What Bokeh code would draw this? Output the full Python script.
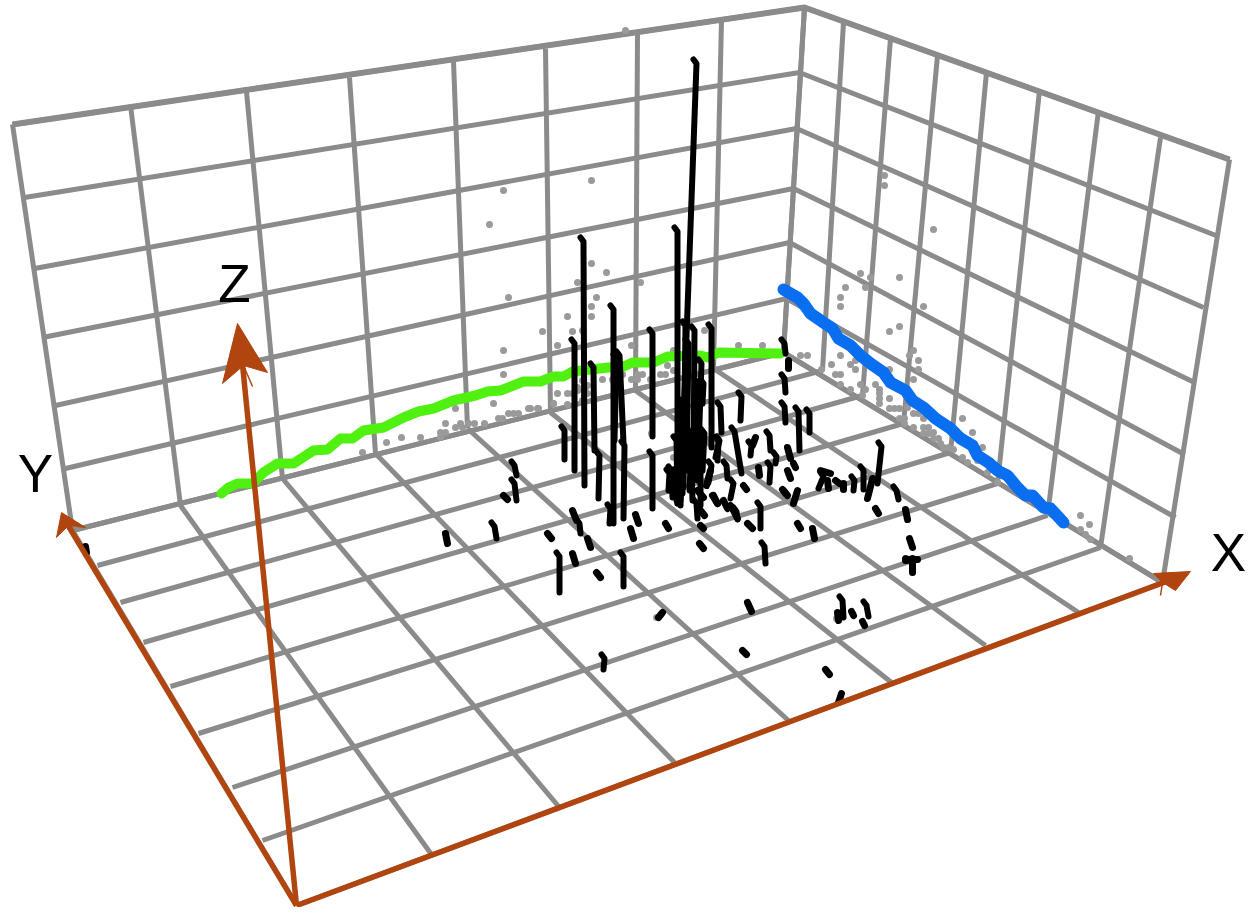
from bokeh.plotting import figure
from bokeh.models import Range1d
from bokeh.core.properties import value
from bokeh.embed import file_html
from bokeh.resources import INLINE

# --- projected box: rows and columns of the three grids ---
back_top_x = [12, 130, 246, 349, 453, 545, 637, 721, 804]
back_top_y = [124, 105, 91, 77, 61, 48, 33, 20, 7]
back_bot_x = [72, 180, 282, 375, 467, 550, 635, 713, 783]
back_bot_y = [530, 505, 478, 453, 428, 412, 390, 368, 352]
left_edge_x = [12, 24, 34, 42, 55, 65, 72]
left_edge_y = [124, 197, 268, 337, 405, 468, 530]
corner_x = [804, 799, 796, 793, 789, 786, 783]
corner_y = [7, 72, 128, 188, 242, 298, 352]
right_edge_x = [1229, 1218, 1203, 1194, 1184, 1175, 1162]
right_edge_y = [159, 236, 307, 382, 454, 517, 582]
right_top_x = [804, 843, 890, 937, 986, 1039, 1098, 1160, 1229]
right_top_y = [7, 22, 38, 55, 72, 90, 110, 137, 159]
right_bot_x = [783, 822, 862, 903, 950, 997, 1047, 1100, 1162]
right_bot_y = [352, 370, 395, 423, 452, 483, 515, 547, 582]
front_x = [296, 431, 559, 675, 789, 891, 985, 1078, 1162]
front_y = [905, 854, 807, 763, 721, 682, 645, 612, 582]
side_x = [72, 97, 120, 143, 170, 198, 232, 262, 296]
side_y = [530, 565, 602, 642, 686, 733, 787, 840, 905]

# --- projections ---
green_x = [221, 228, 237, 252, 263, 277, 293, 313, 327, 340, 352, 363, 383, 403, 418, 433, 453, 475, 487, 500,
           523, 540, 553, 563, 572, 590, 608, 623, 632, 653, 667, 700, 707, 718, 780]
green_y = [493, 487, 483, 483, 472, 463, 463, 450, 449, 438, 438, 430, 427, 417, 411, 408, 400, 395, 391, 390,
           381, 381, 376, 376, 371, 369, 367, 366, 362, 362, 356, 355, 357, 352, 353]
blue_x = [783, 797, 803, 810, 823, 832, 838, 850, 860, 870, 883, 890, 905, 912, 923, 935, 950, 960, 972, 977,
          988, 997, 1007, 1017, 1025, 1032, 1043, 1050, 1063]
blue_y = [289, 297, 303, 313, 322, 328, 338, 345, 355, 363, 372, 382, 390, 400, 407, 418, 428, 438, 445, 455,
          462, 470, 475, 487, 495, 495, 507, 508, 522]

gray_x = [625, 503, 591, 489, 591, 606, 577, 640, 508, 596, 591, 591, 567, 542, 572, 582, 557, 631, 704, 738, 762,
          503, 503, 493, 673, 455, 557, 567, 577, 585, 528, 538, 553, 518, 513, 508, 502, 498, 484, 474, 468, 460,
          445, 455, 462, 445, 440, 440, 420, 401, 386, 362, 582, 587, 602, 612, 622, 631, 637, 637, 642, 650, 660,
          665, 673, 667, 583, 577, 572, 587, 582, 553, 567, 537, 530, 651, 673,
          884, 884, 933, 860, 899, 870, 865, 845, 840, 840, 923, 899, 889, 913, 909, 918, 918, 913, 800, 807, 840,
          831, 821, 850, 855, 855, 835, 840, 840, 850, 865, 860, 875, 889, 862, 879, 879, 879, 879, 889, 889, 894,
          899, 907, 899, 904, 904, 913, 913, 918, 923, 923, 923, 928, 928, 933, 933, 938, 940, 943, 948, 953, 962,
          967, 962, 972, 982, 977, 987, 997, 1027, 1080, 1089, 1080, 1085, 1090, 1129, 656, 836]
gray_y = [30, 190, 180, 224, 263, 272, 282, 282, 297, 297, 306, 316, 316, 331, 331, 330, 345, 345, 330, 345, 345,
          350, 374, 403, 350, 408, 393, 393, 387, 387, 408, 408, 403, 413, 413, 413, 418, 418, 423, 423, 423, 423,
          423, 427, 427, 432, 432, 437, 437, 437, 442, 452, 380, 385, 379, 379, 374, 379, 374, 379, 374, 379, 374,
          374, 370, 365, 390, 390, 393, 393, 400, 403, 404, 408, 408, 433, 457,
          175, 185, 229, 273, 277, 277, 287, 287, 297, 306, 306, 326, 331, 350, 355, 360, 369, 379, 355, 355, 355,
          364, 369, 364, 360, 369, 374, 374, 384, 389, 389, 384, 384, 369, 395, 389, 393, 398, 403, 398, 408, 408,
          408, 407, 418, 418, 423, 427, 413, 413, 418, 427, 433, 433, 427, 432, 438, 438, 443, 447, 447, 449, 457,
          462, 418, 432, 447, 460, 472, 482, 497, 515, 524, 529, 534, 539, 558, 617, 618]

# --- stems rising from the floor (top x, top y, bottom x, bottom y) ---
stem_top_x = [695, 582, 676, 573, 612, 592, 598, 618, 623, 651, 651, 684, 693, 710, 700, 563, 670, 680, 685, 740, 719,
              733, 783, 783, 783, 797, 808, 768, 775, 769, 880, 862, 853, 822, 558, 622, 513, 513, 493, 578, 763, 759,
              841, 865, 895, 710, 725, 732, 695, 735, 750, 675, 717, 689, 603,
              609, 615, 681, 687, 690, 696, 702, 693, 675, 668, 699, 703, 718]
stem_top_y = [60, 238, 228, 340, 306, 364, 452, 352, 442, 330, 452, 322, 327, 325, 360, 427, 467, 440, 400, 393, 403,
              428, 340, 375, 403, 408, 410, 432, 453, 463, 443, 467, 477, 473, 553, 553, 462, 480, 523, 520, 543, 503,
              597, 602, 487, 462, 462, 480, 500, 508, 442, 437, 438, 430, 655,
              505, 355, 400, 340, 440, 380, 380, 433, 470, 470, 470, 430, 437]
stem_bot_x = [680, 584, 677, 574, 613, 594, 598, 623, 623, 652, 652, 683, 693, 711, 697, 564, 672, 680, 688, 740, 721,
              741, 785, 785, 785, 799, 809, 770, 775, 769, 877, 863, 853, 818, 559, 623, 516, 516, 496, 580, 765, 760,
              843, 868, 898, 708, 727, 730, 697, 737, 750, 677, 717, 692, 603,
              609, 614, 682, 686, 689, 696, 702, 695, 676, 668, 700, 702, 715]
stem_bot_y = [500, 485, 503, 470, 523, 450, 498, 442, 518, 436, 508, 487, 470, 447, 480, 459, 497, 505, 470, 420, 432,
              473, 353, 392, 422, 450, 432, 450, 463, 482, 483, 489, 490, 488, 592, 586, 475, 500, 538, 533, 563, 528,
              617, 616, 499, 482, 478, 498, 518, 519, 455, 503, 460, 500, 669,
              523, 440, 493, 470, 490, 427, 403, 477, 500, 490, 505, 470, 457]

# --- short marks (first x, first y, second x, second y) ---
mark_x0 = [85, 503, 445, 547, 572, 587, 572, 596, 630, 635, 665, 699, 700, 747, 743, 782, 797, 797, 812, 875, 905, 909,
           912, 905, 747, 662, 742, 825, 841, 837, 851, 862, 843, 835, 820, 827, 755, 758, 787, 787, 793, 783, 788, 713,
           723, 730, 700, 710, 905, 872, 697, 712, 733]
mark_y0 = [546, 495, 533, 533, 510, 538, 553, 572, 528, 514, 523, 543, 525, 523, 485, 489, 490, 523, 528, 508, 509, 538,
           558, 560, 602, 612, 650, 669, 693, 612, 611, 621, 483, 480, 470, 480, 437, 467, 447, 470, 463, 490, 360, 495,
           500, 505, 510, 470, 558, 478, 490, 495, 510]
mark_x1 = [86, 507, 447, 551, 576, 590, 575, 600, 633, 638, 668, 703, 703, 752, 746, 785, 793, 800, 814, 878, 907, 912,
           912, 917, 751, 658, 746, 829, 838, 838, 853, 864, 843, 839, 830, 828, 752, 759, 790, 790, 795, 787, 788, 717,
           727, 735, 704, 706, 912, 867, 703, 717, 737]
mark_y1 = [552, 499, 543, 538, 520, 547, 563, 577, 538, 523, 528, 548, 528, 528, 489, 493, 503, 528, 538, 513, 519, 547,
           572, 559, 611, 617, 654, 674, 702, 620, 615, 625, 489, 483, 473, 488, 445, 475, 458, 478, 467, 495, 368, 503,
           508, 512, 515, 485, 560, 498, 497, 503, 518]

# --- axes ---
axis_origin = (296, 905)
axis_tips = {"X": (1166, 581), "Y": (67, 524), "Z": (242, 364)}
head_x = [[1190, 1153, 1162, 1175], [61, 56, 68, 85], [237, 222, 243, 267]]
head_y = [[571, 573, 582, 590], [512, 537, 525, 527], [323, 383, 365, 372]]
barb_x = [[1162, 1160], [243, 252]]
barb_y = [[582, 595], [365, 386]]
label_text = ["X", "Y", "Z"]
label_x = [1228, 35, 234]
label_y = [552, 473, 283]

GRAY = "#8b8b8b"
BROWN = "#b0450f"

p = figure(width=1249, height=907, output_backend="svg", toolbar_location=None,
           x_range=Range1d(0, 1249), y_range=Range1d(907, 0), min_border=0)
p.axis.visible = False
p.grid.visible = False
p.outline_line_color = None

xs, ys = [], []
for a in range(9):
    xs.append([back_top_x[a], back_bot_x[a]]); ys.append([back_top_y[a], back_bot_y[a]])
    xs.append([right_top_x[a], right_bot_x[a]]); ys.append([right_top_y[a], right_bot_y[a]])
    xs.append([back_bot_x[a], front_x[a]]); ys.append([back_bot_y[a], front_y[a]])
    xs.append([side_x[a], right_bot_x[a]]); ys.append([side_y[a], right_bot_y[a]])
for a in range(7):
    xs.append([left_edge_x[a], corner_x[a]]); ys.append([left_edge_y[a], corner_y[a]])
    xs.append([corner_x[a], right_edge_x[a]]); ys.append([corner_y[a], right_edge_y[a]])
p.multi_line(xs, ys, line_color=GRAY, line_width=5, line_cap="butt")
p.line([left_edge_x[0], corner_x[0], right_edge_x[0]], [left_edge_y[0], corner_y[0], right_edge_y[0]],
       line_color=GRAY, line_width=6, line_join="round")

p.scatter(gray_x, gray_y, size=7, color="#9a9a9a", line_color=None)

p.line(green_x, green_y, line_color="#50f010", line_width=10, line_cap="round", line_join="round")
p.line(blue_x, blue_y, line_color="#0a6ef0", line_width=12, line_cap="round", line_join="round")

sx, sy = [], []
for x0, y0, x1, y1 in zip(stem_top_x, stem_top_y, stem_bot_x, stem_bot_y):
    sx.append([x0 - 2, x0 + 1, x1]); sy.append([y0 - 1, y0 + 3, y1])
p.multi_line(sx, sy, line_color="black", line_width=6, line_cap="round", line_join="round")
p.multi_line([[a, b] for a, b in zip(mark_x0, mark_x1)], [[a, b] for a, b in zip(mark_y0, mark_y1)],
             line_color="black", line_width=7, line_cap="round")

ox, oy = axis_origin
for k in label_text:
    tx, ty = axis_tips[k]
    p.line([ox, tx], [oy, ty], line_color=BROWN, line_width=5.5)
p.patches(head_x, head_y, fill_color=BROWN, line_color=BROWN, line_width=1)
p.multi_line(barb_x, barb_y, line_color=BROWN, line_width=1.5)

p.text(label_x, label_y, text=label_text, text_font=value("Liberation Sans"), text_font_size="53px",
       text_align="center", text_baseline="middle", text_color="black")

open("out.html", "w").write(file_html(p, INLINE))
